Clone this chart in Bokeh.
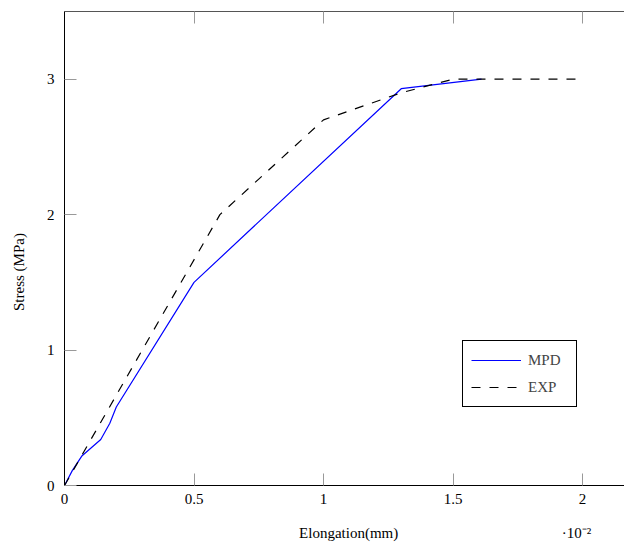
import math
from bokeh.plotting import figure
from bokeh.models import LinearAxis, Range1d, Legend, LegendItem, FixedTicker
from bokeh.embed import file_html
from bokeh.resources import INLINE

# data
mpd_x = [0, 0.03, 0.068, 0.14, 0.175, 0.2, 0.5, 1.3, 1.61]
mpd_y = [0, 0.11, 0.22, 0.34, 0.46, 0.58, 1.5, 2.93, 3.0]
exp_x = [0, 0.6, 1.0, 1.3, 1.5, 2.0]
exp_y = [0, 2.0, 2.7, 2.9, 3.0, 3.0]
x_ticks = [0, 0.5, 1, 1.5, 2]
y_ticks = [0, 1, 2, 3]
series_names = ["MPD", "EXP"]
x_title = "Elongation(mm)"
y_title = "Stress (MPa)"
x_scale_note = "·10⁻²"

FONT = "Liberation Serif"

p = figure(width=624, height=544, output_backend="svg", toolbar_location=None,
           x_axis_location=None, y_axis_location=None,
           min_border_left=64, min_border_right=0, min_border_top=11, min_border_bottom=59)
p.x_range = Range1d(0, 2.162)
p.y_range = Range1d(0, 3.5)
p.outline_line_color = None
p.grid.visible = False
p.background_fill_color = "white"
p.border_fill_color = "white"

def style_axis(ax, ticks, labels=True, line_color="black"):
    ax.ticker = FixedTicker(ticks=ticks)
    ax.major_tick_in = 12
    ax.major_tick_out = 0
    ax.minor_tick_in = 0
    ax.minor_tick_out = 0
    ax.major_tick_line_color = "#999999"
    ax.axis_line_color = line_color
    ax.axis_line_width = 1
    ax.major_label_text_font = FONT
    ax.major_label_text_font_size = "15px"
    ax.major_label_text_color = "black"
    if not labels:
        ax.major_label_text_font_size = "0px"
        ax.major_label_text_color = None

def label_axis(ticks, overrides, standoff):
    ax = LinearAxis()
    ax.ticker = FixedTicker(ticks=ticks)
    ax.major_label_overrides = overrides
    ax.axis_line_color = None
    ax.major_tick_line_color = None
    ax.minor_tick_line_color = None
    ax.major_tick_in = 0
    ax.major_tick_out = 0
    ax.major_label_standoff = standoff
    ax.major_label_text_font = FONT
    ax.major_label_text_font_size = "15px"
    ax.major_label_text_color = "black"
    return ax

xb = LinearAxis()
style_axis(xb, x_ticks)
xb.major_label_standoff = 8
p.add_layout(xb, "below")

# second, line-less axis carrying the x title and the scale note
title_x_pos = 1.097
note_x_pos = 1.977
xlab = label_axis([title_x_pos, note_x_pos], {title_x_pos: x_title, note_x_pos: x_scale_note}, 18)
p.add_layout(xlab, "below")

yl = LinearAxis()
style_axis(yl, y_ticks)
yl.major_label_standoff = 10
p.add_layout(yl, "left")

title_y_pos = 1.576
ylab = label_axis([title_y_pos], {title_y_pos: y_title}, 16)
ylab.major_label_orientation = "vertical"
p.add_layout(ylab, "left")

xt = LinearAxis()
style_axis(xt, x_ticks, labels=False, line_color="#555555")
p.add_layout(xt, "above")

r1 = p.line(mpd_x, mpd_y, line_color="#0000ff", line_width=1.2)
r2 = p.line(exp_x, exp_y, line_color="black", line_width=1.2, line_dash="9 9")

legend = Legend(items=[LegendItem(label=series_names[0], renderers=[r1]),
                       LegendItem(label=series_names[1], renderers=[r2])],
                location=(398, 78))
legend.border_line_color = "black"
legend.border_line_width = 1
legend.border_line_alpha = 1
legend.background_fill_alpha = 1
legend.padding = 8
legend.spacing = 5
legend.margin = 0
legend.glyph_width = 50
legend.glyph_height = 22
legend.label_height = 22
legend.label_width = 40
legend.label_standoff = 7
legend.label_text_font = FONT
legend.label_text_font_size = "15px"
p.add_layout(legend, "center")

open("out.html", "w").write(file_html(p, INLINE))
